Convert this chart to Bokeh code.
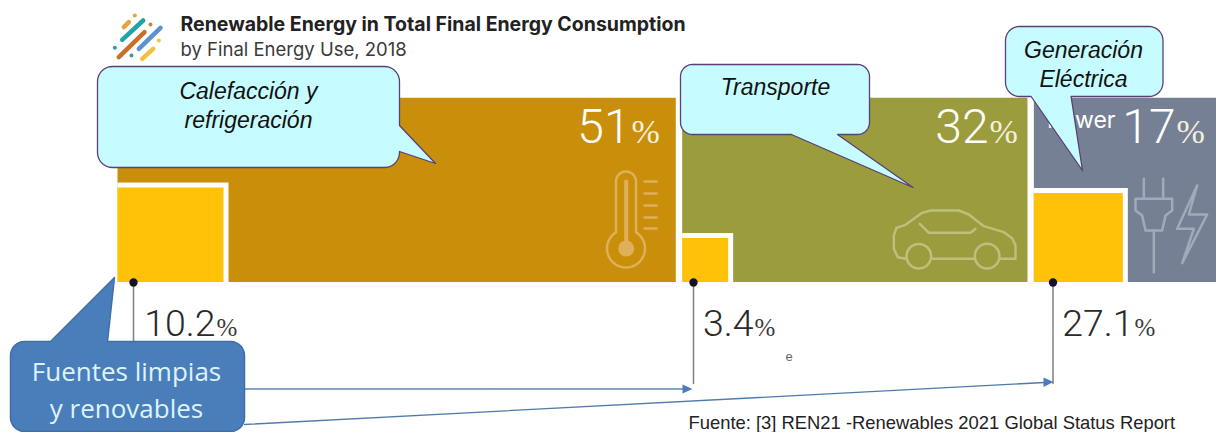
import numpy as np
from bokeh.plotting import figure
from bokeh.models import Range1d
from bokeh.core.properties import value
from bokeh.embed import file_html
from bokeh.resources import INLINE

# ---- data
uses = ["Heating and Cooling", "Transport", "Power"]
shares = [51, 32, 17]
renewable = [10.2, 3.4, 27.1]
callout_labels = [["Calefacción y", "refrigeración"], ["Transporte"], ["Generación", "Eléctrica"]]
title = "Renewable Energy in Total Final Energy Consumption"
subtitle = "by Final Energy Use, 2018"
source = "Fuente: [3] REN21 -Renewables 2021 Global Status Report"
clean_label = ["Fuentes limpias", "y renovables"]

# ---- layout
WIDTH, HEIGHT = 1216, 432
X0, XU = 117.0, 10.99     # pixel of 0 % and pixels per share unit
Y0, YU = 281.5, 1.842     # pixel of the bar bottom and pixels per height unit
colors = ["#C98F0B", "#9A9C3E", "#768094"]
YELLOW = "#FFC209"
inset_w = [106, 46, 89]
inset_h = [94.5, 44, 89]
leader_x = [133, 693, 1052.5]
share_right = [630, 988, 1175]
label_right = [215, 753, 1133]

p = figure(width=WIDTH, height=HEIGHT, output_backend="svg", toolbar_location=None,
           x_range=Range1d((0 - X0) / XU, (1216 - X0) / XU),
           y_range=Range1d(-(432 - Y0) / YU, (Y0 - 0) / YU),
           x_axis_location=None, y_axis_location=None, min_border=0,
           outline_line_color=None, background_fill_color="white")
p.grid.visible = False
p.extra_x_ranges["px"] = Range1d(0, 1216)
p.extra_y_ranges["px"] = Range1d(432, 0)
PX = dict(x_range_name="px", y_range_name="px")

# bars, in share units
cum = np.cumsum([0] + shares)
left = [c + (0.38 if i else 0) for i, c in enumerate(cum[:-1])]
right = [c - (0.2 if c < 100 else 0) for c in cum[1:]]
p.quad(left=left, right=right, bottom=[0] * 3, top=[100] * 3, fill_color=colors, line_color=None)

# renewable insets
iw = [w / XU for w in inset_w]
ih = [h / YU for h in inset_h]
p.quad(left=left, right=[l + w + 5 / XU for l, w in zip(left, iw)], bottom=[0] * 3,
       top=[h + 5 / YU for h in ih], fill_color="white", line_color=None)
p.quad(left=left, right=[l + w for l, w in zip(left, iw)], bottom=[0] * 3, top=ih,
       fill_color=YELLOW, line_color=None)


def txt(x, y, s, size, color, font="Liberation Sans", align="left", style="normal"):
    p.text(x=[x], y=[y - 0.36 * size], text=[s], text_font=value(font), text_font_size=f"{size}px",
           text_color=color, text_align=align, text_baseline="alphabetic",
           text_font_style=style, **PX)


def line(pts, color, w):
    a = np.array(pts, float)
    p.line(a[:, 0], a[:, 1], line_color=color, line_width=w, line_join="round", line_cap="round", **PX)


# thermometer icon
TH = "#DFAF5A"
a = np.radians(np.linspace(58, -238, 60))
bulb = [(625.5 + 19 * np.cos(t), 248 - 19 * np.sin(t)) for t in a]
a2 = np.radians(np.linspace(180, 0, 20))
cap = [(625.5 + 10 * np.cos(t), 181 - 10 * np.sin(t)) for t in a2]
line(cap + bulb + cap[:1], TH, 2.5)
line([(625.7, 181), (625.7, 245)], TH, 4)
p.circle(x=[625.7], y=[248], radius=8, fill_color=TH, line_color=None, **PX)
for yy in [181, 193, 205, 217, 228]:
    line([(644, yy), (656, yy)], TH, 2.5)

# car icon
CAR = "#BDBF7C"
cx = lambda pts: [(880 + x / 3, 190 + y / 3) for x, y in pts]
line(cx([(75, 205), (52, 200), (40, 175), (40, 135), (48, 112), (75, 103), (125, 67), (150, 60), (235, 60),
         (265, 72), (310, 107), (370, 125), (395, 143), (405, 165), (405, 205), (358, 205)]), CAR, 2.5)
line(cx([(155, 205), (283, 205)]), CAR, 2.5)
line(cx([(118, 100), (145, 127), (270, 127), (285, 115)]), CAR, 2.5)
for wx in [115, 320]:
    p.circle(x=[880 + wx / 3], y=[190 + 197 / 3], radius=12.3, fill_color=None, line_color=CAR, line_width=2.5, **PX)

# plug and bolt icon
PL = "#A1AAB9"
cx = lambda pts: [(1025 + x / 3, 90 + y / 3) for x, y in pts]
line(cx([(355, 265), (355, 325)]), PL, 2.5)
line(cx([(413, 265), (413, 325)]), PL, 2.5)
line(cx([(330, 325), (440, 325), (440, 360), (420, 375), (410, 420), (360, 420), (350, 375), (330, 360), (330, 325)]), PL, 2.5)
line(cx([(385, 420), (385, 545)]), PL, 2.5)
line(cx([(515, 285), (455, 415), (505, 415), (470, 518), (545, 372), (490, 372), (515, 285)]), PL, 2.5)

# logo
for pts, c in [([(365, 118), (428, 60)], "#1FA5A8"), ([(355, 170), (432, 95)], "#C8702A"),
               ([(415, 145), (480, 82)], "#5C93CC"), ([(370, 80), (385, 65)], "#E8A33A"),
               ([(425, 175), (458, 145)], "#F2C23E")]:
    line([(x / 3, y / 3) for x, y in pts], c, 4.5)
for (x, y), c in [((403, 45), "#E8A33A"), ((450, 72), "#B9874A"), ((343, 142), "#2E9AA6"),
                  ((393, 165), "#4F8FA8"), ((475, 120), "#F2C23E")]:
    p.circle(x=[x / 3], y=[y / 3], radius=2, fill_color=c, line_color=None, **PX)

# texts
txt(180, 30.5, title, 19.5, "#222222", "Inter", style="bold")
txt(180, 55, subtitle, 18.5, "#3a3a3a", "Inter")
LIGHT = "Roboto Light"
PCT = "DejaVu Sans ExtraLight"
for s, x in zip(shares, share_right):
    txt(x, 143, f"{s}", 48, "#FFFFFF", LIGHT, "right")
    txt(x + 1, 143, "%", 34, "#F3F0DC", PCT)
txt(1115, 128, uses[2], 23, "#FFFFFF", "Inter", "right")
for r, x in zip(renewable, label_right):
    txt(x, 336, f"{r}", 37.5, "#2A2A2A", LIGHT, "right")
    txt(x + 1, 336, "%", 25, "#3a3a3a", PCT)
txt(785, 361, "e", 13, "#666666")
txt(688, 429, source, 18.4, "#222222")

# leaders
for x in leader_x:
    line([(x, 282), (x, 383)], "#7F7F7F", 1.5)
    p.circle(x=[x], y=[282], radius=4.2, fill_color="#14141E", line_color=None, **PX)

# arrows
AR = "#4A7EBB"
line([(244, 388.5), (684, 388.5)], "#5F86B5", 1.3)
line([(244, 424), (1044, 382)], "#4F7BAA", 1.3)
p.patch([682, 692, 682], [384, 388.5, 393], fill_color=AR, line_color=None, **PX)
p.patch([1043, 1053, 1043], [377, 381.5, 386.5], fill_color=AR, line_color=None, **PX)


def callout(x0, y0, x1, y1, r, tail, side, fill, edge, lw):
    def arc(cx_, cy_, a0):
        t = np.radians(np.linspace(a0, a0 + 90, 10))
        return [(cx_ + r * np.cos(v), cy_ + r * np.sin(v)) for v in t]
    pts = arc(x0 + r, y0 + r, 180)
    pts += tail if side == "top" else []
    pts += arc(x1 - r, y0 + r, 270)
    pts += tail if side == "right" else []
    pts += arc(x1 - r, y1 - r, 0)
    pts += tail if side == "bottom" else []
    pts += arc(x0 + r, y1 - r, 90)
    a = np.array(pts)
    p.patch(a[:, 0], a[:, 1], fill_color=fill, line_color=edge, line_width=lw, line_join="round", **PX)


CY = "#C6FCFF"
ED = "#5A3F78"
callout(97, 66, 399, 167, 15, [(399, 125), (435, 163), (399, 151)], "right", CY, ED, 1.3)
callout(680, 64, 869, 134, 12, [(837, 134), (912.5, 187), (791, 134)], "bottom", CY, ED, 1.3)
callout(1005, 26, 1162.5, 96, 14, [(1070.6, 96), (1082, 170), (1030.6, 96)], "bottom", CY, ED, 1.3)
callout(10, 341, 244, 431, 14, [(50, 341), (114, 277), (107, 341)], "top", "#4A7EBB", "#3F6FA5", 1.5)

ital = dict(font="Liberation Sans", align="center", style="italic")
txt(248, 99, callout_labels[0][0], 23, "#111111", **ital)
txt(248, 128, callout_labels[0][1], 23, "#111111", **ital)
txt(775, 95, callout_labels[1][0], 23, "#111111", **ital)
txt(1083, 58, callout_labels[2][0], 23, "#111111", **ital)
txt(1083, 87, callout_labels[2][1], 23, "#111111", **ital)
txt(126, 380, clean_label[0], 26, "#DDF3FB", "Open Sans", "center")
txt(126, 417, clean_label[1], 26, "#DDF3FB", "Open Sans", "center")

html = file_html(p, INLINE)
html = html.replace("<head>", "<head><style>html,body{overflow:hidden;margin:0!important;padding:0}</style>", 1)
open("out.html", "w").write(html)
